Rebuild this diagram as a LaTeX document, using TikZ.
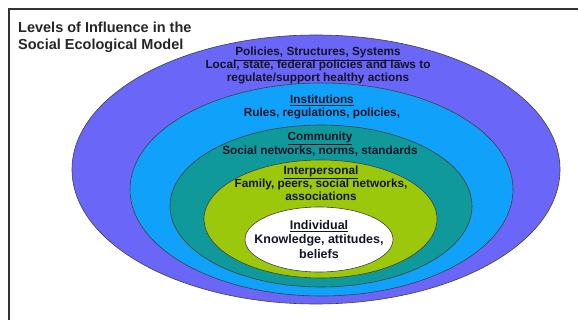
\documentclass[tikz,border=0pt]{standalone}
\usepackage{fontspec}
\setmainfont{Liberation Sans}
\usetikzlibrary{shapes.geometric}
\definecolor{cPol}{HTML}{6A66F8}
\definecolor{cInst}{HTML}{10A2FA}
\definecolor{cComm}{HTML}{10999A}
\definecolor{cInter}{HTML}{9CC80C}
\definecolor{cTxt}{HTML}{141428}
\tikzset{
  ring/.style={ellipse, draw=black!75, line width=0.6pt, inner sep=0pt},
  lbl/.style={anchor=base, inner sep=0pt, text=cTxt, font=\bfseries\fontsize{11.8}{13}\selectfont},
  lblbig/.style={lbl, font=\bfseries\fontsize{12.5}{14}\selectfont},
  ttl/.style={anchor=base west, inner sep=0pt, text=black!85, font=\bfseries\fontsize{14.5}{16}\selectfont},
  frame/.style={line width=2pt, draw=black!80}
}
\begin{document}
\begin{tikzpicture}[x=1pt, y=-1pt]
\useasboundingbox (0,0) rectangle (578,320);
\coordinate (fr1) at (8.5,320);
\coordinate (fr2) at (8.5,9.5);
\coordinate (fr3) at (578,9.5);
\draw[frame] (fr1) -- (fr2) -- (fr3);

\node[ttl] (t1) at (18,33) {Levels of Influence in the};
\node[ttl] (t2) at (18,49.5) {Social Ecological Model};

\node[ring, fill=cPol, minimum width=488pt, minimum height=269pt] (pol) at (316,169.5) {};
\node[ring, fill=cInst, minimum width=383pt, minimum height=213pt] (inst) at (321.5,189.5) {};
\node[ring, fill=cComm, minimum width=302pt, minimum height=162pt] (comm) at (321,206) {};
\node[ring, fill=cInter, minimum width=233pt, minimum height=118pt] (inter) at (320.5,219) {};
\node[ring, fill=white, minimum width=148pt, minimum height=65pt] (indiv) at (319,239.5) {};

\node[lbl] (p1) at (318,56) {\underline{Policies, Structures, Systems}};
\node[lbl] (p2) at (318,68.5) {Local, state, federal policies and laws to};
\node[lbl] (p3) at (318,81.5) {regulate/support healthy actions};

\node[lbl] (i1) at (322,104) {\underline{Institutions}};
\node[lbl] (i2) at (322,116.5) {Rules, regulations, policies,};

\node[lbl] (c1) at (320,140.5) {\underline{Community}};
\node[lbl] (c2) at (320,154.3) {Social networks, norms, standards};

\node[lbl] (n1) at (321,174.3) {\underline{Interpersonal}};
\node[lbl] (n2) at (321,187.3) {Family, peers, social networks,};
\node[lbl] (n3) at (321,201) {associations};

\node[lblbig] (d1) at (319,230) {\underline{Individual}};
\node[lblbig] (d2) at (319,244) {Knowledge, attitudes,};
\node[lblbig] (d3) at (319,258.3) {beliefs};
\end{tikzpicture}
\end{document}
